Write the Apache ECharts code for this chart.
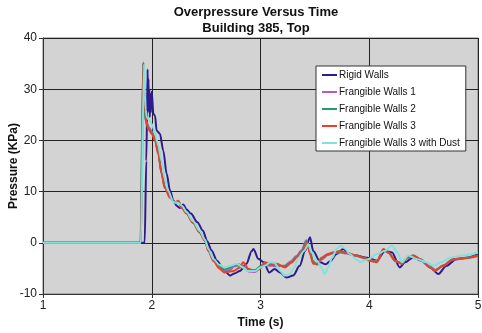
<!DOCTYPE html>
<html>
<head>
<meta charset="utf-8">
<script src="https://cdn.jsdelivr.net/npm/echarts@6/dist/echarts.min.js"></script>
<style>
  html, body { margin: 0; padding: 0; background: #fff; }
  #chart { width: 482px; height: 333px; }
</style>
</head>
<body>
<div id="chart"></div>
<script>
// series names as in the legend
const seriesNames = ['Rigid Walls', 'Frangible Walls 1', 'Frangible Walls 2', 'Frangible Walls 3', 'Frangible Walls 3 with Dust'];
const seriesColors = ['#2c1c8e', '#b45cb8', '#1f9e6c', '#e8402c', '#80e2db'];

// [time (s), pressure (KPa)]
const rigidWalls = [
  [1, 0], [1.935, 0], [1.95, 16], [1.962, 33.9], [1.966, 27], [1.97, 32], [1.974, 25.5], [1.978, 30],
  [1.982, 24.5], [1.987, 29], [1.992, 25.5], [1.996, 28], [2.0, 29.5], [2.015, 25.2], [2.03, 24.8],
  [2.045, 21.9], [2.075, 21.3], [2.106, 18], [2.137, 13.5], [2.168, 10.2], [2.2, 8.2], [2.23, 7.2],
  [2.26, 6.8], [2.29, 7.5], [2.32, 6.5], [2.36, 5.7], [2.42, 4], [2.47, 2.4], [2.51, 0.3], [2.55, -1.5],
  [2.6, -3.5], [2.66, -5.2], [2.72, -6.4], [2.76, -6], [2.81, -5.5], [2.87, -4.1], [2.92, -1.6], [2.935, -1.2],
  [2.98, -3.1], [3.03, -3.8], [3.08, -5.8], [3.13, -5.1], [3.18, -5.8], [3.24, -6.8], [3.3, -6.4],
  [3.36, -4.5], [3.41, -1.6], [3.455, 1.1], [3.485, -1.6], [3.55, -3.8], [3.6, -4.2], [3.64, -3.6],
  [3.7, -2.2], [3.76, -1.2], [3.82, -2.2], [3.88, -2.5], [3.98, -2.9], [4.07, -3.5], [4.145, -1.6],
  [4.21, -1.9], [4.28, -4.8], [4.33, -3.8], [4.4, -2.9], [4.48, -3.5], [4.56, -4.8], [4.635, -6.1],
  [4.71, -4.5], [4.8, -3.2], [4.9, -2.9], [5.0, -2.2]
];

const frangibleWalls1 = [
  [1, 0], [1.898, 0], [1.922, 35], [1.93, 29], [1.94, 24], [1.955, 23.5], [1.975, 22.5], [2.0, 21.8],
  [2.03, 20.3], [2.06, 17.8], [2.09, 13.8], [2.12, 11], [2.17, 9], [2.21, 7.9], [2.245, 8], [2.28, 6.9],
  [2.32, 5.8], [2.38, 4], [2.44, 2.1], [2.49, 0.5], [2.52, -1.4], [2.57, -3.5], [2.62, -4.8], [2.67, -5.5],
  [2.72, -5.3], [2.76, -4.6], [2.8, -4.2], [2.84, -4.6], [2.89, -5.6], [2.95, -5.7], [3.0, -4.9],
  [3.04, -4.2], [3.09, -4.5], [3.15, -4.6], [3.22, -4.5], [3.28, -3.6], [3.33, -2.6], [3.38, -1.4],
  [3.42, 0.5], [3.45, -1.5], [3.48, -3.5], [3.52, -4.3], [3.56, -3.3], [3.62, -2.4], [3.67, -2],
  [3.73, -1.9], [3.79, -2.1], [3.88, -2.6], [3.95, -3], [4.0, -3.4], [4.07, -3.6], [4.13, -1.4],
  [4.18, -2], [4.24, -3.6], [4.3, -4], [4.35, -3], [4.41, -2.6], [4.47, -3.3], [4.56, -4.7], [4.61, -5.3],
  [4.68, -4.4], [4.77, -3.3], [4.9, -3], [5.0, -2.6]
];

const frangibleWalls2 = [
  [1, 0], [1.896, 0], [1.921, 35.1], [1.93, 28.5], [1.94, 24.5], [1.955, 23], [1.975, 22.2], [2.0, 21.5],
  [2.03, 20.1], [2.06, 17.6], [2.09, 13.6], [2.12, 10.8], [2.17, 8.9], [2.21, 7.8], [2.245, 8.1], [2.28, 6.8],
  [2.32, 5.7], [2.38, 3.9], [2.44, 2], [2.49, 0.4], [2.52, -1.5], [2.57, -3.4], [2.62, -4.6], [2.67, -5.2],
  [2.72, -4.9], [2.76, -4.3], [2.8, -4.5], [2.84, -4.9], [2.89, -5.4], [2.95, -5.3], [3.0, -4.6],
  [3.04, -4.0], [3.09, -4.3], [3.15, -4.4], [3.22, -4.6], [3.28, -3.9], [3.33, -2.8], [3.38, -1.6],
  [3.425, 0.3], [3.455, -1.8], [3.485, -3.8], [3.52, -4.2], [3.56, -3.1], [3.62, -2.3], [3.67, -1.9],
  [3.73, -1.7], [3.79, -2], [3.88, -2.5], [3.95, -2.9], [4.0, -3.4], [4.07, -3.7], [4.13, -1.3],
  [4.175, -1.9], [4.24, -3.5], [4.3, -4.1], [4.345, -2.9], [4.405, -2.5], [4.47, -3.2], [4.56, -4.7],
  [4.6, -5.4], [4.68, -4.5], [4.77, -3.2], [4.9, -2.9], [5.0, -2.4]
];

const frangibleWalls3 = [
  [1, 0], [1.9, 0], [1.924, 35.2], [1.935, 27], [1.954, 23], [1.975, 22], [2.0, 21.3], [2.03, 20],
  [2.06, 17.4], [2.09, 13.5], [2.12, 10.7], [2.168, 8.8], [2.214, 7.8], [2.244, 8.2], [2.275, 6.8],
  [2.32, 5.7], [2.38, 3.9], [2.44, 2], [2.49, 0.4], [2.52, -1.6], [2.57, -3.6], [2.62, -5], [2.67, -5.8],
  [2.72, -5.6], [2.75, -5.5], [2.81, -4.8], [2.84, -3.8], [2.89, -5.1], [2.95, -5.5], [2.995, -5.1],
  [3.04, -3.8], [3.09, -4.1], [3.15, -4.1], [3.225, -4.8], [3.29, -3.8], [3.33, -2.9], [3.38, -1.9],
  [3.43, 0], [3.455, -2.2], [3.485, -4.1], [3.52, -4.1], [3.56, -2.9], [3.62, -2.2], [3.67, -1.9],
  [3.73, -1.6], [3.79, -1.9], [3.88, -2.5], [3.95, -2.9], [4.0, -3.5], [4.07, -3.8], [4.13, -1.2],
  [4.175, -1.9], [4.24, -3.5], [4.3, -4.1], [4.345, -2.9], [4.405, -2.5], [4.47, -3.2], [4.56, -4.8],
  [4.6, -5.5], [4.68, -4.5], [4.77, -3.2], [4.9, -2.9], [5.0, -2.5]
];

const frangibleWalls3Dust = [
  [1, 0], [1.9, 0], [1.929, 34.9], [1.937, 29], [1.945, 26], [1.955, 24.5], [1.975, 24], [2.0, 23.2],
  [2.03, 21.5], [2.06, 19], [2.09, 16], [2.12, 12.5], [2.15, 10.2], [2.2, 7.9], [2.24, 7.8], [2.28, 7.2],
  [2.32, 6], [2.38, 4.2], [2.44, 2.3], [2.49, 0.6], [2.52, -1.2], [2.57, -3.2], [2.62, -4.3], [2.67, -4.8],
  [2.72, -4.5], [2.78, -4.1], [2.84, -4.8], [2.88, -5.5], [2.95, -5.5], [3.0, -4.8], [3.04, -4.5],
  [3.09, -3.8], [3.13, -3.9], [3.15, -4.5], [3.18, -5.5], [3.22, -6.4], [3.27, -6.1], [3.31, -4.8],
  [3.35, -2.9], [3.4, -1.6], [3.44, -0.3], [3.47, -1.9], [3.52, -3.5], [3.56, -4.8], [3.59, -6.1],
  [3.62, -4.8], [3.66, -2.9], [3.7, -1.2], [3.74, -0.6], [3.78, -1.2], [3.82, -2.2], [3.88, -3.2],
  [3.92, -3.8], [3.99, -3.2], [4.07, -2.2], [4.14, -1.6], [4.21, -0.6], [4.26, -1.9], [4.3, -3.8],
  [4.36, -2.5], [4.44, -3.2], [4.53, -3.8], [4.59, -4.5], [4.66, -3.8], [4.74, -2.9], [4.85, -2.5],
  [5.0, -1.9]
];

const allSeries = [rigidWalls, frangibleWalls1, frangibleWalls2, frangibleWalls3, frangibleWalls3Dust];

const FONT = 'Liberation Sans, Arial, sans-serif';

const chart = echarts.init(document.getElementById('chart'));

const option = {
  animation: false,
  backgroundColor: '#fff',
  title: [
    {
      text: 'Overpressure Versus Time',
      left: 251, textAlign: 'center', top: 1,
      textStyle: { fontFamily: FONT, fontSize: 13, fontWeight: 'bold', color: '#111' }
    },
    {
      text: 'Building 385, Top',
      left: 251, textAlign: 'center', top: 17,
      textStyle: { fontFamily: FONT, fontSize: 13, fontWeight: 'bold', color: '#111' }
    }
  ],
  grid: {
    left: 43, right: 4, top: 38, bottom: 39,
    outerBoundsMode: 'none',
    containLabel: false,
    show: true, backgroundColor: '#d3d3d3', borderColor: '#7a7a7a', borderWidth: 1
  },
  legend: {
    orient: 'vertical',
    left: 316, top: 66,
    backgroundColor: '#fff',
    borderColor: '#333', borderWidth: 1,
    padding: [4, 6, 3, 6],
    itemGap: 7,
    itemWidth: 15, itemHeight: 10,
    textStyle: { fontFamily: FONT, fontSize: 10, color: '#111', padding: [0, 0, 0, -3] },
    data: seriesNames.map((n, i) => ({
      name: n,
      icon: 'path://M0,4.5L15,4.5L15,6.5L0,6.5Z'
    }))
  },
  xAxis: {
    type: 'value', min: 1, max: 5, interval: 1,
    name: 'Time (s)', nameLocation: 'middle', nameGap: 23,
    nameMoveOverlap: false,
    nameTextStyle: { fontFamily: FONT, fontSize: 12, fontWeight: 'bold', color: '#111' },
    axisLine: { show: true, onZero: false, lineStyle: { color: '#333' } },
    axisTick: { show: true, length: 4, lineStyle: { color: '#333' } },
    axisLabel: { fontFamily: FONT, fontSize: 12, color: '#222', margin: 6 },
    splitLine: { show: true, lineStyle: { color: '#222', width: 1 } }
  },
  yAxis: {
    type: 'value', min: -10, max: 40, interval: 10,
    name: 'Pressure (KPa)', nameLocation: 'middle', nameGap: 23,
    nameMoveOverlap: false,
    nameTextStyle: { fontFamily: FONT, fontSize: 12, fontWeight: 'bold', color: '#111' },
    axisLine: { show: true, onZero: false, lineStyle: { color: '#333' } },
    axisTick: { show: true, length: 4, lineStyle: { color: '#333' } },
    axisLabel: { fontFamily: FONT, fontSize: 12, color: '#222', margin: 6 },
    splitLine: { show: true, lineStyle: { color: '#222', width: 1 } }
  },
  series: allSeries.map((d, i) => ({
    name: seriesNames[i],
    type: 'line',
    data: d,
    showSymbol: false,
    smooth: 0.3,
    smoothMonotone: 'x',
    color: seriesColors[i],
    lineStyle: { width: 2, color: seriesColors[i] }
  }))
};

chart.setOption(option);
</script>
</body>
</html>
